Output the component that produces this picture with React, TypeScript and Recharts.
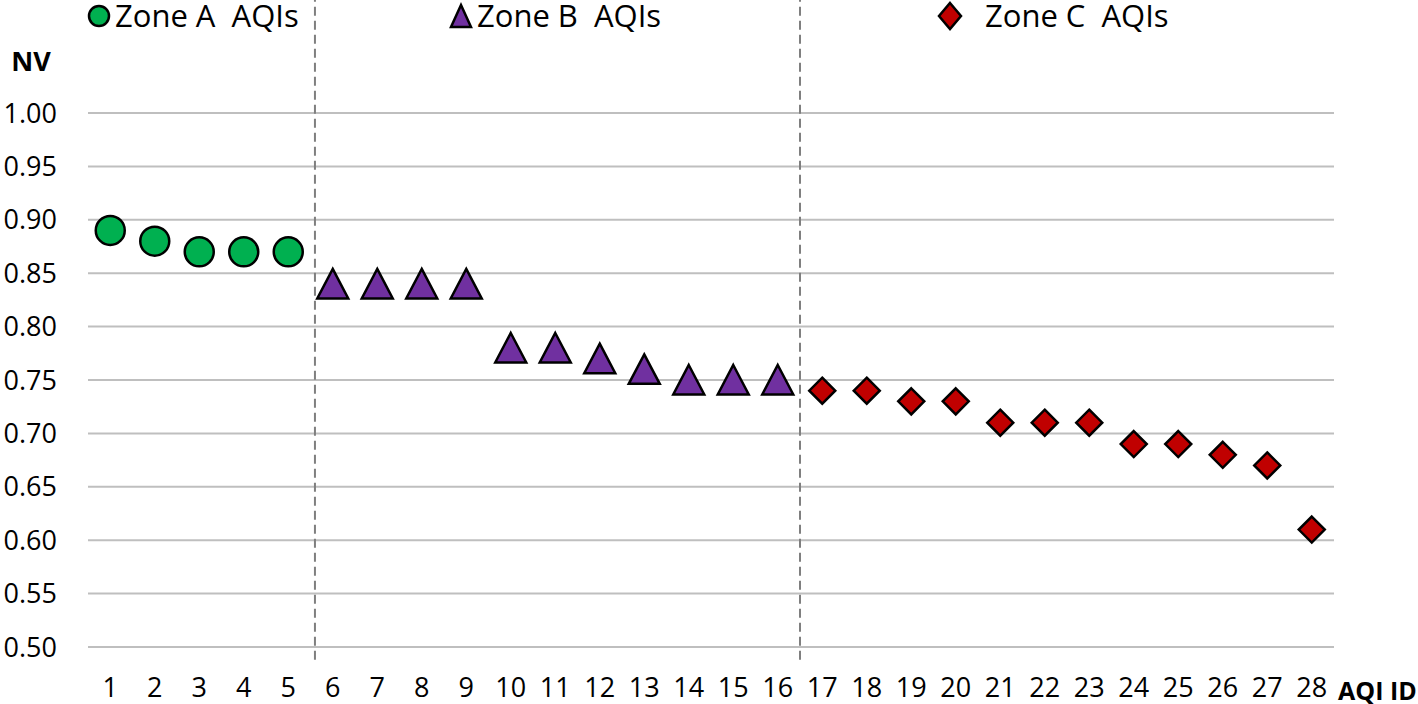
import { ScatterChart, Scatter, XAxis, YAxis, CartesianGrid, ReferenceLine, Legend } from 'recharts';

// AQI ids on the x axis
const aqiIds = [1, 2, 3, 4, 5, 6, 7, 8, 9, 10, 11, 12, 13, 14, 15, 16, 17, 18, 19, 20, 21, 22, 23, 24, 25, 26, 27, 28];
const nvTicks = [0.5, 0.55, 0.6, 0.65, 0.7, 0.75, 0.8, 0.85, 0.9, 0.95, 1.0];

// NV values per zone
const zoneAIds = [1, 2, 3, 4, 5];
const zoneAValues = [0.89, 0.88, 0.87, 0.87, 0.87];
const zoneBIds = [6, 7, 8, 9, 10, 11, 12, 13, 14, 15, 16];
const zoneBValues = [0.84, 0.84, 0.84, 0.84, 0.78, 0.78, 0.77, 0.76, 0.75, 0.75, 0.75];
const zoneCIds = [17, 18, 19, 20, 21, 22, 23, 24, 25, 26, 27, 28];
const zoneCValues = [0.74, 0.74, 0.73, 0.73, 0.71, 0.71, 0.71, 0.69, 0.69, 0.68, 0.67, 0.61];

// zone boundaries (dashed separators)
const zoneBreaks = [5.6, 16.5];

const colors = {
  zoneA: '#00b050',
  zoneB: '#7030a0',
  zoneC: '#c00000',
  grid: '#bfbfbf',
  dash: '#7f7f7f',
  text: '#000000',
};

const font = '"Open Sans", sans-serif';

const toPoints = (ids: number[], values: number[]) => ids.map((id, i) => ({ id, nv: values[i] }));

const CircleMark = (props: any) => {
  const { cx, cy } = props;
  if (cx == null || cy == null) return null;
  return <circle cx={cx} cy={cy} r={14.5} fill={colors.zoneA} stroke="#000" strokeWidth={2.5} />;
};

const TriangleMark = (props: any) => {
  const { cx, cy } = props;
  if (cx == null || cy == null) return null;
  const d = `M${cx},${cy - 15} L${cx + 15.5},${cy + 14.5} L${cx - 15.5},${cy + 14.5} Z`;
  return <path d={d} fill={colors.zoneB} stroke="#000" strokeWidth={2.5} />;
};

const DiamondMark = (props: any) => {
  const { cx, cy } = props;
  if (cx == null || cy == null) return null;
  const h = 13;
  const d = `M${cx},${cy - h} L${cx + h},${cy} L${cx},${cy + h} L${cx - h},${cy} Z`;
  return <path d={d} fill={colors.zoneC} stroke="#000" strokeWidth={2.5} />;
};

// Legend across the top, items spread over the three zones
const TopLegend = () => {
  const textStyle = { fontFamily: font, fontSize: 31, fill: colors.text };
  return (
    <svg width={1418} height={50} style={{ display: 'block', overflow: 'visible' }}>
      <circle cx={99} cy={16} r={10} fill={colors.zoneA} stroke="#000" strokeWidth={2.5} />
      <text x={115} y={27} style={textStyle} xmlSpace="preserve">{'Zone A  AQIs'}</text>
      <path d="M461,5 L471,27 L451,27 Z" fill={colors.zoneB} stroke="#000" strokeWidth={2.5} />
      <text x={477} y={27} style={textStyle} xmlSpace="preserve">{'Zone B  AQIs'}</text>
      <path d="M950,3 L961,16 L950,29 L939,16 Z" fill={colors.zoneC} stroke="#000" strokeWidth={2.5} />
      <text x={985} y={27} style={textStyle} xmlSpace="preserve">{'Zone C  AQIs'}</text>
    </svg>
  );
};

export default function App() {
  const tick = { fill: colors.text, fontSize: 27, fontFamily: font };
  return (
    <div style={{ position: 'absolute', left: 0, top: 0, width: 1418, height: 704, background: '#fff' }}>
      <ScatterChart width={1418} height={704} margin={{ top: 113, right: 84, bottom: 0, left: 8 }} style={{ overflow: 'visible' }}>
        <CartesianGrid vertical={false} stroke={colors.grid} strokeWidth={2} />
        <XAxis
          type="number"
          dataKey="id"
          domain={[0.5, 28.5]}
          ticks={aqiIds}
          interval={0}
          height={57}
          axisLine={false}
          tickLine={false}
          tickSize={0}
          tickMargin={31}
          tick={tick}
          label={{ value: 'AQI ID', position: 'right', offset: 4, dy: 16, style: { fontFamily: font, fontSize: 25, fontWeight: 700, fill: colors.text } }}
        />
        <YAxis
          type="number"
          dataKey="nv"
          domain={[0.5, 1.0]}
          ticks={nvTicks}
          interval={0}
          width={80}
          axisLine={false}
          tickLine={false}
          tickSize={0}
          tickMargin={31}
          tick={tick}
          tickFormatter={(v: number) => v.toFixed(2)}
          label={{ value: 'NV', position: 'top', offset: 42, dx: -17, style: { fontFamily: font, fontSize: 27, fontWeight: 700, fill: colors.text } }}
        />
        {zoneBreaks.map((x) => (
          <ReferenceLine
            key={x}
            segment={[{ x, y: 0.488 }, { x, y: 1.106 }]}
            ifOverflow="visible"
            stroke={colors.dash}
            strokeWidth={2}
            strokeDasharray="9 5"
          />
        ))}
        <Scatter name="Zone A  AQIs" data={toPoints(zoneAIds, zoneAValues)} shape={CircleMark} isAnimationActive={false} />
        <Scatter name="Zone B  AQIs" data={toPoints(zoneBIds, zoneBValues)} shape={TriangleMark} isAnimationActive={false} />
        <Scatter name="Zone C  AQIs" data={toPoints(zoneCIds, zoneCValues)} shape={DiamondMark} isAnimationActive={false} />
        <Legend
          verticalAlign="middle"
          align="center"
          layout="horizontal"
          content={() => <TopLegend />}
          wrapperStyle={{ top: 0, left: 0, width: 1418, height: 50 }}
        />
      </ScatterChart>
    </div>
  );
}
